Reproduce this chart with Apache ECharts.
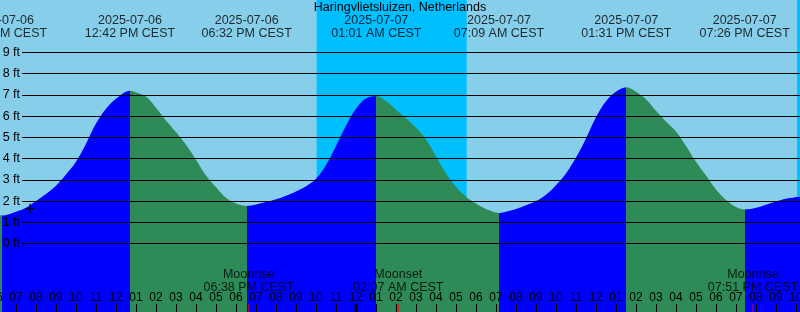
<!DOCTYPE html>
<html>
<head>
<meta charset="utf-8">
<style>
  html, body { margin: 0; padding: 0; background: #87ceeb; }
  #chart { width: 800px; height: 312px; }
</style>
<script src="https://cdn.jsdelivr.net/npm/echarts@6/dist/echarts.min.js"></script>
</head>
<body>
<div id="chart"></div>
<script>
const stationName = 'Haringvlietsluizen, Netherlands'

// hours counted from 2025-07-06 00:00 CEST
const tideHours = [6.2, 6.3, 7, 7.5, 8, 8.5, 9, 9.5, 10, 10.5, 11, 11.5, 12, 12.7, 13, 13.5, 14, 14.5, 15, 15.5,
  16, 16.5, 17, 17.5, 18, 18.533, 19, 19.5, 20, 20.5, 21, 21.5, 22, 22.5, 23, 23.5, 24, 24.5, 25.017, 25.5,
  26, 26.5, 27, 27.5, 28, 28.5, 29, 29.5, 30, 30.5, 31.15, 31.5, 32, 32.5, 33, 33.5, 34, 34.5, 35, 35.5,
  36, 36.5, 37, 37.517, 38, 38.5, 39, 39.5, 40, 40.5, 41, 41.5, 42, 42.5, 43, 43.433, 44, 44.5, 45, 45.5, 46.2]
const tideFeet = [1.34, 1.32, 1.5, 1.68, 2.0, 2.33, 2.72, 3.25, 3.85, 4.7, 5.65, 6.35, 6.82, 7.2, 7.12, 6.93, 6.4, 5.8, 5.25, 4.65,
  3.95, 3.2, 2.65, 2.15, 1.88, 1.77, 1.84, 1.95, 2.08, 2.25, 2.45, 2.7, 3.05, 3.7, 4.6, 5.55, 6.35, 6.83, 6.95, 6.72,
  6.3, 5.9, 5.45, 4.9, 4.1, 3.3, 2.67, 2.2, 1.88, 1.62, 1.44, 1.5, 1.62, 1.8, 2.0, 2.3, 2.75, 3.3, 4.05, 4.95,
  5.95, 6.7, 7.15, 7.36, 7.15, 6.8, 6.25, 5.75, 5.28, 4.6, 3.85, 3.2, 2.55, 2.05, 1.72, 1.6, 1.68, 1.83, 1.98, 2.11, 2.2]

const extremeDates = ['2025-07-06', '2025-07-06', '2025-07-06', '2025-07-07', '2025-07-07', '2025-07-07', '2025-07-07']
const extremeTimes = ['06:18 AM', '12:42 PM', '06:32 PM', '01:01 AM', '07:09 AM', '01:31 PM', '07:26 PM']
const extremeKinds = ['low', 'high', 'low', 'high', 'low', 'high', 'low']

const moonEvents = ['Moonrise', 'Moonset', 'Moonrise']
const moonDates = ['2025-07-06', '2025-07-07', '2025-07-07']
const moonTimes = ['06:38 PM', '02:07 AM', '07:51 PM']

// dark band = between sunset and sunrise
const sunsetDates = ['2025-07-06', '2025-07-07']
const sunsetTimes = ['10:02 PM', '10:03 PM']
const sunriseDates = ['2025-07-07', '2025-07-08']
const sunriseTimes = ['05:32 AM', '05:33 AM']

const nowMark = [7.7, 1.64]

const dayStart = Date.parse('2025-07-06T00:00:00')
function toHours(date, time) {
  const [hm, ap] = time.split(' ')
  let [h, m] = hm.split(':').map(Number)
  if (ap === 'PM' && h !== 12) h += 12
  if (ap === 'AM' && h === 12) h = 0
  return (Date.parse(date + 'T00:00:00') - dayStart) / 3600000 + h + m / 60
}

function hourLabel(v) {
  const h = ((Math.round(v) % 12) + 12) % 12 || 12
  return String(h).padStart(2, '0')
}

const xMin = 6, xMax = 47
const yMin = -3.228, yMax = 11.474
const labelLevel = 10.21
const moonLevel = -1.79
const font = 'Liberation Sans'
const RISE = '#0000ff', FALL = '#2e8b57'

const tideData = tideHours.map((h, i) => [h, tideFeet[i]])
const extremeHours = extremeTimes.map((t, i) => toHours(extremeDates[i], t))
const moonHours = moonTimes.map((t, i) => toHours(moonDates[i], t))

// colour each stretch: blue while rising (after a low), green while falling
const pieces = [{ lt: extremeHours[0], color: extremeKinds[0] === 'low' ? FALL : RISE }]
extremeHours.forEach((h, i) => {
  const p = { gte: h, color: extremeKinds[i] === 'low' ? RISE : FALL }
  if (i < extremeHours.length - 1) p.lt = extremeHours[i + 1]
  pieces.push(p)
})

const nightBands = sunsetTimes.map((t, i) => [
  { xAxis: toHours(sunsetDates[i], t) },
  { xAxis: Math.min(xMax, toHours(sunriseDates[i], sunriseTimes[i])) }
])

const chart = echarts.init(document.getElementById('chart'))
chart.setOption({
  backgroundColor: '#87ceeb',
  animation: false,
  textStyle: { fontFamily: font },
  title: {
    text: stationName,
    left: 'center',
    top: 0,
    padding: 0,
    textStyle: { fontSize: 12.5, fontWeight: 'normal', color: '#000', fontFamily: font, lineHeight: 15 }
  },
  grid: [
    { left: -4, right: -16, top: 0, bottom: 0, containLabel: false, outerBoundsMode: 'none' },
    { left: 22, right: 0, top: 52.5, height: 191, containLabel: false, outerBoundsMode: 'none' }
  ],
  xAxis: [
    {
      type: 'value', gridIndex: 0, min: xMin, max: xMax, interval: 1, position: 'bottom', z: 10,
      axisLine: { show: false, onZero: false },
      splitLine: { show: false },
      axisTick: { show: true, inside: true, length: 8, lineStyle: { color: '#000', width: 1 } },
      axisLabel: { inside: true, margin: 8, fontSize: 12, color: '#000', fontFamily: font, hideOverlap: false, formatter: hourLabel }
    },
    { type: 'value', gridIndex: 1, min: 0, max: 1, show: false }
  ],
  yAxis: [
    { type: 'value', gridIndex: 0, min: yMin, max: yMax, show: false },
    {
      type: 'value', gridIndex: 1, min: 0, max: 9, interval: 1, z: 10,
      axisLine: { show: false },
      axisTick: { show: false },
      splitLine: { lineStyle: { color: '#000', width: 1 } },
      axisLabel: { margin: 2, fontSize: 12.5, color: '#000', fontFamily: font, formatter: '{value} ft' }
    }
  ],
  visualMap: {
    type: 'piecewise',
    show: false,
    seriesIndex: 0,
    dimension: 0,
    pieces: pieces
  },
  series: [
    {
      name: 'tide',
      type: 'line',
      data: tideData,
      smooth: 0.35,
      symbol: 'none',
      lineStyle: { width: 0 },
      areaStyle: { origin: 'start', opacity: 1 },
      z: 2,
      markArea: {
        silent: true,
        itemStyle: { color: '#00bfff' },
        data: nightBands
      }
    },
    {
      name: 'extremes',
      type: 'scatter',
      clip: false,
      z: 6,
      symbolSize: 1,
      itemStyle: { color: 'rgba(0,0,0,0)' },
      data: extremeHours.map(h => [h, labelLevel]),
      label: {
        show: true,
        position: 'inside',
        color: '#000',
        fontSize: 12.5,
        lineHeight: 13,
        fontFamily: font,
        formatter: p => extremeDates[p.dataIndex] + '\n' + extremeTimes[p.dataIndex] + ' CEST'
      }
    },
    {
      name: 'moon',
      type: 'scatter',
      clip: false,
      z: 6,
      symbolSize: 1,
      itemStyle: { color: 'rgba(0,0,0,0)' },
      data: moonHours.map(h => [h, moonLevel]),
      label: {
        show: true,
        position: 'inside',
        color: '#000',
        fontSize: 12.5,
        lineHeight: 13,
        fontFamily: font,
        formatter: p => moonEvents[p.dataIndex] + '\n' + moonTimes[p.dataIndex] + ' CEST'
      }
    },
    {
      name: 'moonTicks',
      type: 'scatter',
      clip: false,
      z: 11,
      symbol: 'rect',
      symbolSize: [1, 8],
      symbolOffset: [0, -4],
      itemStyle: { color: '#ff0000' },
      data: moonHours.map(h => [h, yMin])
    },
    {
      name: 'midnight',
      type: 'scatter',
      clip: false,
      z: 11,
      symbol: 'rect',
      symbolSize: [3, 8],
      symbolOffset: [0, -4],
      itemStyle: { color: '#000' },
      data: [[24, yMin]]
    },
    {
      name: 'now',
      type: 'scatter',
      z: 8,
      symbol: 'path://M0,4.25H10V5.75H0Z M4.25,0H5.75V10H4.25Z',
      symbolSize: 10,
      itemStyle: { color: '#000' },
      data: [nowMark]
    }
  ]
})
</script>
</body>
</html>
